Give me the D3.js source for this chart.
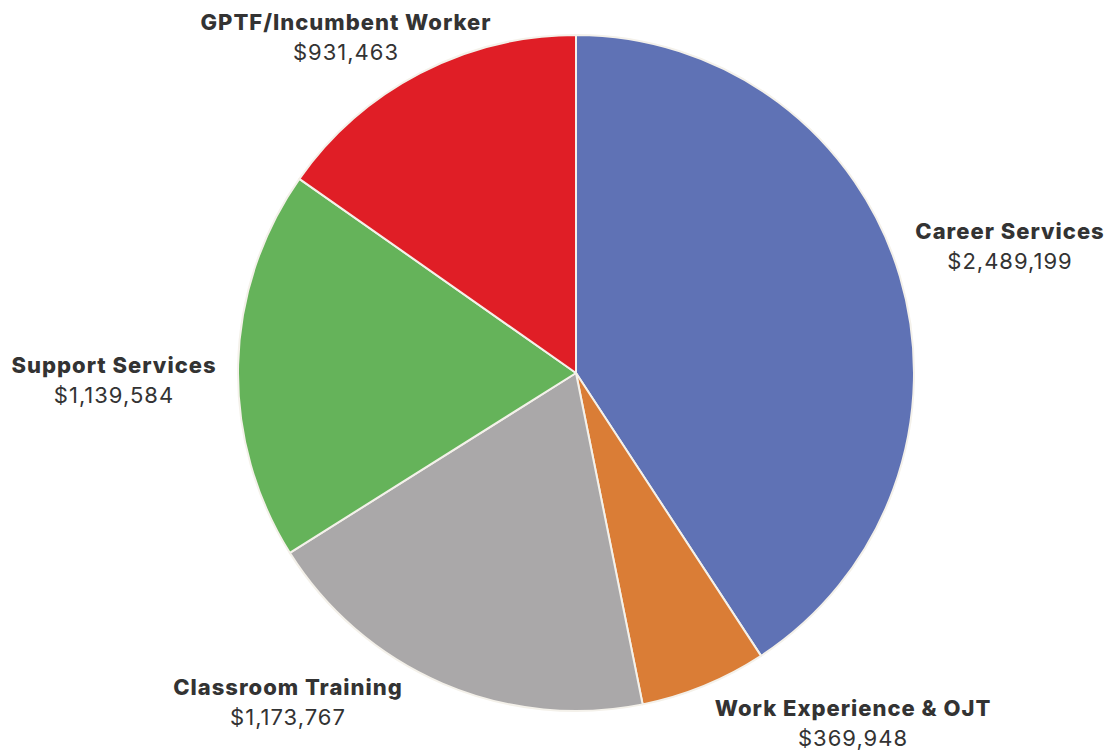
<!DOCTYPE html>
<meta charset="utf-8">
<script src="https://d3js.org/d3.v7.min.js"></script>
<style>
  body { margin: 0; background: #fff; }
  text { font-family: Inter, "Open Sans", sans-serif; fill: #333; }
</style>
<body>
  <div id="my_dataviz"></div>
  <script>

    // Data
    var categories = ["Career Services", "Work Experience & OJT", "Classroom Training", "Support Services", "GPTF/Incumbent Worker"];
    var amounts = [2489199, 369948, 1173767, 1139584, 931463];
    var colors = ["#5f72b5", "#da7d36", "#aaa8a9", "#65b35a", "#e01e26"];

    // Where each label sits (centre of the text block)
    var labelPos = {
      "Career Services": [1010, 231],
      "Work Experience & OJT": [853, 708],
      "Classroom Training": [288, 687],
      "Support Services": [114, 365],
      "GPTF/Incumbent Worker": [346, 22]
    };

    var width = 1112, height = 751;
    var cx = 576, cy = 373, radius = 338;

    var svg = d3.select("#my_dataviz")
      .append("svg")
        .attr("width", width)
        .attr("height", height);

    var data = categories.map(function(c, i) {
      return {name: c, value: amounts[i], color: colors[i]};
    });

    var pie = d3.pie()
      .sort(null)
      .value(function(d) { return d.value; });

    var arc = d3.arc()
      .innerRadius(0)
      .outerRadius(radius);

    var g = svg.append("g")
      .attr("transform", "translate(" + cx + "," + cy + ")");

    // Slices
    g.selectAll("path")
      .data(pie(data))
      .enter()
      .append("path")
        .attr("d", arc)
        .attr("fill", function(d) { return d.data.color; })
        .attr("stroke", "#f4f1ea")
        .attr("stroke-width", 2)
        .attr("stroke-linejoin", "round");

    // Labels
    var fmt = d3.format("$,");
    var labels = svg.selectAll("g.label")
      .data(data)
      .enter()
      .append("g")
        .attr("class", "label")
        .attr("transform", function(d) {
          var p = labelPos[d.name];
          return "translate(" + p[0] + "," + p[1] + ")";
        });

    labels.append("text")
      .attr("text-anchor", "middle")
      .attr("dy", "0.35em")
      .style("font-size", "22px")
      .style("font-weight", 800)
      .style("letter-spacing", "1px")
      .text(function(d) { return d.name; });

    labels.append("text")
      .attr("text-anchor", "middle")
      .attr("y", 30)
      .attr("dy", "0.35em")
      .style("font-size", "22px")
      .style("font-weight", 400)
      .style("letter-spacing", "1px")
      .text(function(d) { return fmt(d.value); });

  </script>
</body>
